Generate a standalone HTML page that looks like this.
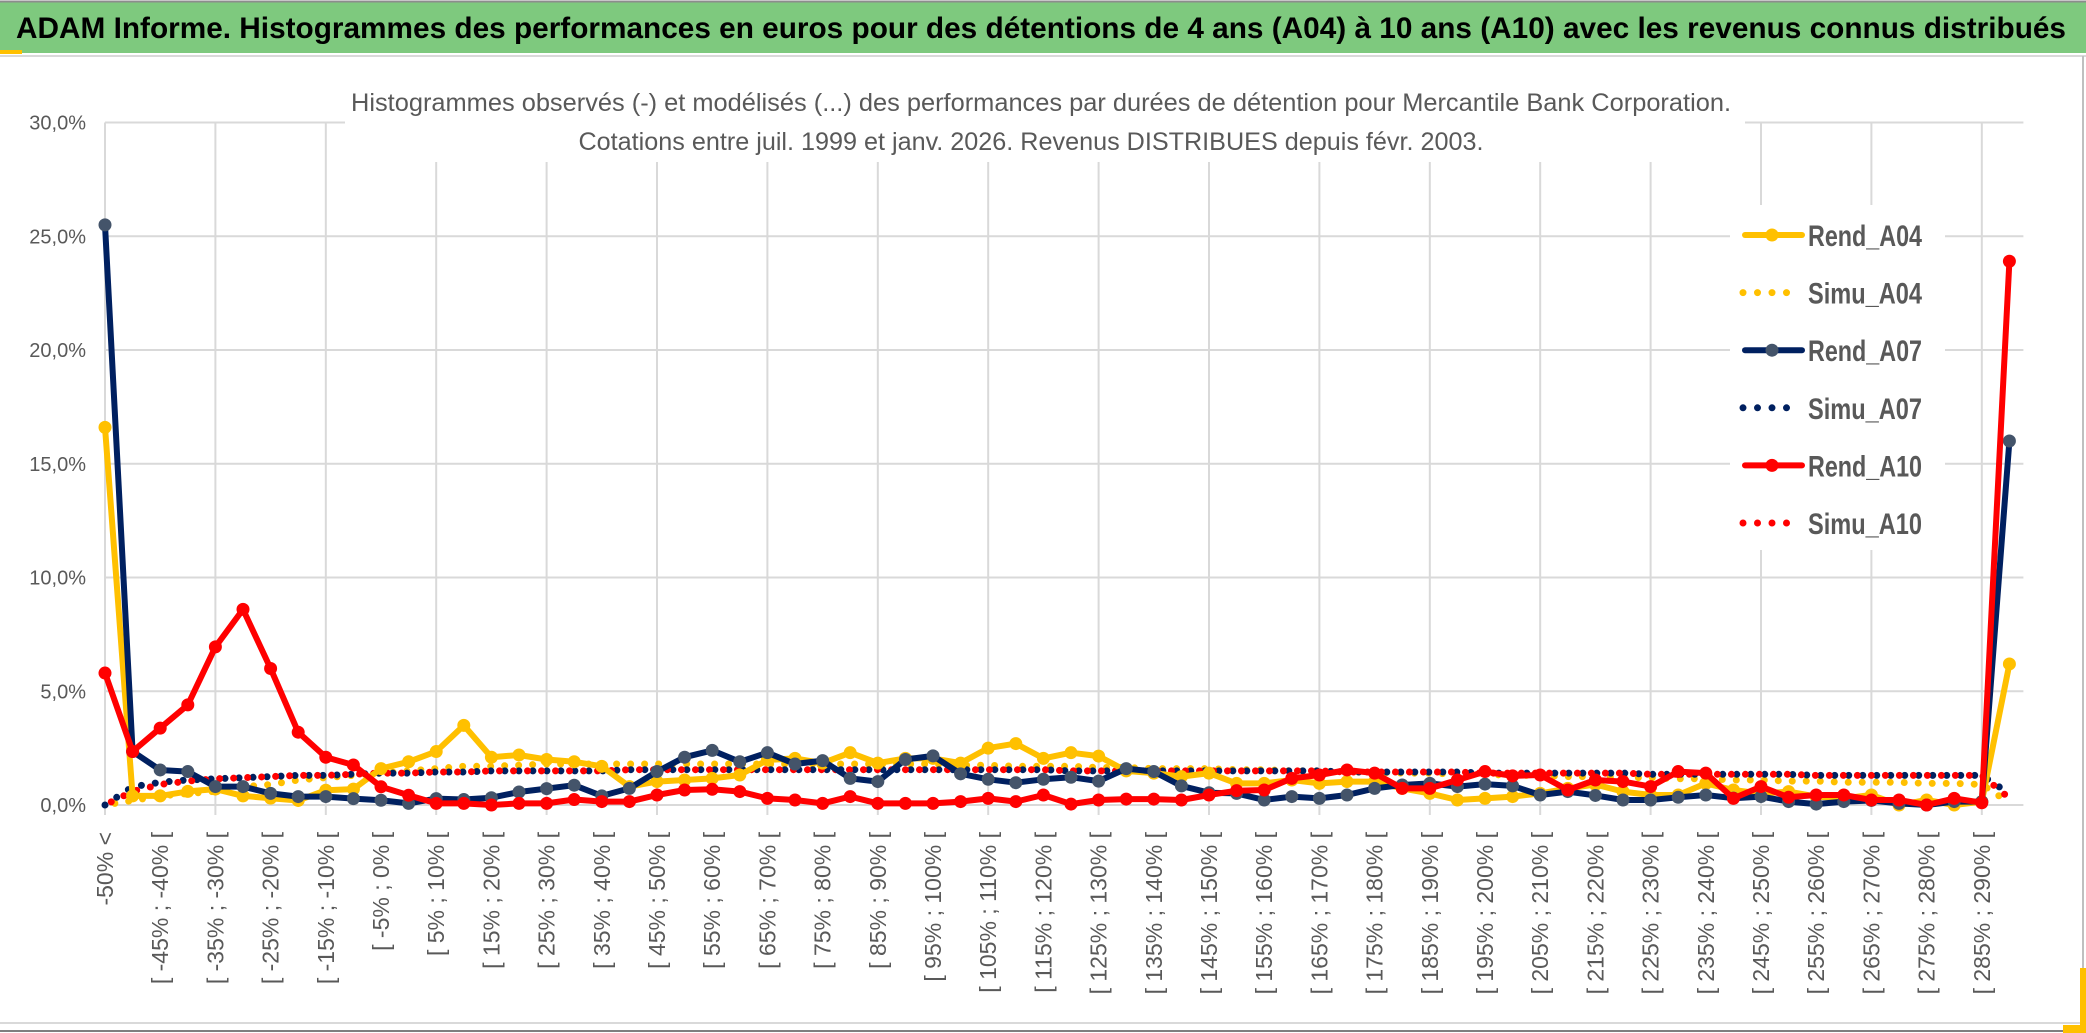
<!DOCTYPE html>
<html><head><meta charset="utf-8">
<style>
html,body{margin:0;padding:0;background:#fff;}
svg{display:block;}
text{font-family:"Liberation Sans Narrow","Liberation Sans",sans-serif;}
</style></head>
<body>
<svg id="chart" width="2086" height="1033" viewBox="0 0 2086 1033" xmlns="http://www.w3.org/2000/svg">
  <rect x="0" y="0" width="2086" height="1033" fill="#ffffff"/>
  <rect x="0" y="2" width="2086" height="51" fill="#7ec97e"/>
  <line x1="0" y1="1.5" x2="2086" y2="1.5" stroke="#8c8c8c" stroke-width="2"/>
  <rect x="0" y="50" width="22" height="4" fill="#ffc000"/>
  <line x1="0" y1="56" x2="2086" y2="56" stroke="#d9d9d9" stroke-width="2"/>
  <text x="16" y="38" font-size="30" font-weight="bold" fill="#000" textLength="2050" lengthAdjust="spacingAndGlyphs">ADAM Informe. Histogrammes des performances en euros pour des détentions de 4 ans (A04) à 10 ans (A10) avec les revenus connus distribués</text>
  <line x1="2083" y1="56" x2="2083" y2="1031" stroke="#bfbfbf" stroke-width="2"/>
  <line x1="0" y1="1023" x2="2083" y2="1023" stroke="#d9d9d9" stroke-width="2"/>
  <line x1="0" y1="1031" x2="2086" y2="1031" stroke="#7f7f7f" stroke-width="2"/>
  <rect x="2080" y="968" width="6" height="63" fill="#ffc000"/>
  <rect x="2063" y="1025" width="23" height="8" fill="#ffc000"/>
  <g id="grid"></g>
  <rect x="345" y="78" width="1400" height="84" fill="#fff"/>
  <text x="1041" y="111" font-size="25" fill="#595959" text-anchor="middle" textLength="1380" lengthAdjust="spacingAndGlyphs">Histogrammes observés (-) et modélisés (...) des performances par durées de détention pour Mercantile Bank Corporation.</text>
  <text x="1031" y="150" font-size="25" fill="#595959" text-anchor="middle" textLength="905" lengthAdjust="spacingAndGlyphs">Cotations entre juil. 1999 et janv. 2026. Revenus DISTRIBUES depuis févr. 2003.</text>
  <g id="yaxis"></g>
  <g id="xaxis"></g>
  <g id="series"></g>
  <g id="legend"></g>
</svg>
<script>
const categories = ["-50% <"];
const lowBounds = [-50,-45,-40,-35,-30,-25,-20,-15,-10,-5,0,5,10,15,20,25,30,35,40,45,50,55,60,65,70,75,80,85,90,95,100,105,110,115,120,125,130,135,140,145,150,155,160,165,170,175,180,185,190,195,200,205,210,215,220,225,230,235,240,245,250,255,260,265,270,275,280,285];
const yTicks = [0,5,10,15,20,25,30];
const yTickLabels = ["0,0%","5,0%","10,0%","15,0%","20,0%","25,0%","30,0%"];
const rendA04 = [16.6,.4,.4,.6,.7,.4,.3,.2,.65,.7,1.6,1.9,2.35,3.5,2.1,2.2,2.0,1.9,1.7,.81,1.03,1.1,1.17,1.32,1.98,2.05,1.84,2.3,1.84,2.05,2.05,1.84,2.5,2.7,2.05,2.3,2.15,1.5,1.4,1.25,1.4,.95,.95,1.1,.95,1.03,1.03,.73,.51,.22,.29,.37,.51,.73,.9,.59,.44,.44,.95,.66,.5,.59,.37,.29,.44,0,.22,0,.15,6.2];
const simuA04 = [0,.2,.4,.5,.6,.8,.9,1.1,1.2,1.3,1.4,1.5,1.6,1.7,1.7,1.75,1.8,1.8,1.8,1.8,1.8,1.8,1.8,1.8,1.8,1.8,1.8,1.8,1.8,1.8,1.8,1.75,1.75,1.7,1.7,1.7,1.65,1.65,1.6,1.6,1.6,1.55,1.55,1.5,1.5,1.45,1.45,1.4,1.4,1.35,1.35,1.3,1.3,1.25,1.25,1.2,1.2,1.15,1.15,1.1,1.1,1.05,1.05,1.0,1.0,1.0,.95,.95,.9,.1];
const rendA07 = [25.5,2.35,1.54,1.47,.81,.81,.51,.37,.37,.28,.21,.07,.28,.24,.32,.57,.72,.87,.4,.73,1.47,2.1,2.4,1.9,2.3,1.8,1.95,1.17,1.03,2.0,2.16,1.37,1.13,.98,1.13,1.22,1.05,1.6,1.47,.84,.54,.51,.22,.37,.29,.44,.73,.88,.95,.81,.92,.84,.44,.59,.42,.22,.22,.34,.44,.3,.37,.15,.04,.15,.2,.07,0,.15,.15,16.0];
const simuA07 = [0,.8,1.0,1.1,1.15,1.2,1.25,1.3,1.3,1.35,1.4,1.4,1.45,1.45,1.5,1.5,1.5,1.5,1.5,1.55,1.55,1.55,1.55,1.55,1.55,1.55,1.55,1.55,1.55,1.55,1.55,1.55,1.55,1.55,1.55,1.5,1.5,1.5,1.5,1.5,1.5,1.5,1.5,1.5,1.5,1.45,1.45,1.45,1.45,1.45,1.4,1.4,1.4,1.4,1.4,1.4,1.35,1.35,1.35,1.35,1.35,1.35,1.3,1.3,1.3,1.3,1.3,1.3,1.3,.5];
const rendA10 = [5.8,2.35,3.38,4.4,6.95,8.6,6.0,3.2,2.1,1.76,.8,.43,.07,.07,0,.07,.07,.24,.15,.15,.44,.66,.69,.59,.29,.22,.07,.37,.07,.07,.07,.15,.29,.15,.44,.04,.22,.26,.26,.22,.44,.63,.66,1.17,1.32,1.54,1.4,.73,.73,1.1,1.47,1.28,1.32,.66,1.1,1.03,.81,1.47,1.4,.29,.81,.34,.44,.44,.22,.22,0,.29,.1,23.9];
const simuA10 = [0,.6,.9,1.05,1.15,1.2,1.25,1.3,1.3,1.35,1.4,1.4,1.45,1.45,1.5,1.5,1.5,1.5,1.5,1.55,1.55,1.55,1.55,1.55,1.55,1.55,1.55,1.55,1.55,1.55,1.55,1.55,1.55,1.55,1.55,1.5,1.5,1.5,1.5,1.5,1.5,1.5,1.5,1.5,1.5,1.45,1.45,1.45,1.45,1.45,1.4,1.4,1.4,1.4,1.4,1.4,1.35,1.35,1.35,1.35,1.35,1.35,1.3,1.3,1.3,1.3,1.3,1.3,1.3,.3];

lowBounds.forEach(b => categories.push("[ " + b + "% ; " + (b + 5) + "% ["));
categories.push("> 290%");

const NS = "http://www.w3.org/2000/svg";
const X0 = 105, DX = 27.6, Y0 = 805, PY = 22.75;
function xs(i){ return X0 + i * DX; }
function ys(v){ return Y0 - v * PY; }
function mk(tag, attrs, parent){
  const e = document.createElementNS(NS, tag);
  for (const k in attrs) e.setAttribute(k, attrs[k]);
  parent.appendChild(e);
  return e;
}
const grid = document.getElementById('grid');
const yaxis = document.getElementById('yaxis');
const xaxis = document.getElementById('xaxis');
const series = document.getElementById('series');
const legend = document.getElementById('legend');
const nCat = categories.length;

yTicks.forEach((t, k) => {
  const l = mk('line', {x1: X0, x2: xs(nCat - 1) + 14, y1: ys(t), y2: ys(t), stroke: '#d9d9d9', 'stroke-width': 2}, grid);
  
  
  const tx = mk('text', {x: 86, y: ys(t) + 7, 'font-size': 20, fill: '#595959', 'text-anchor': 'end'}, yaxis);
  tx.textContent = yTickLabels[k];
  
  
});
for (let i = 0; i < nCat; i += 4) {
  const l = mk('line', {x1: xs(i), x2: xs(i), y1: ys(yTicks[yTicks.length - 1]), y2: Y0 + 10, stroke: '#d9d9d9', 'stroke-width': 2}, grid);
  
  
}
for (let i = 0; i < nCat; i += 2) {
  const x = xs(i) + 8, y = 832;
  const tx = mk('text', {x: x, y: y, 'font-size': 23, fill: '#595959', 'text-anchor': 'end', transform: 'rotate(-90 ' + x + ' ' + y + ')'}, xaxis);
  tx.textContent = categories[i];
  
  
}

function pts(arr){ return arr.map((v, i) => xs(i).toFixed(1) + ',' + ys(v).toFixed(1)).join(' '); }
function simu(arr, color, offset, name){
  const p = mk('polyline', {points: pts(arr), fill: 'none', stroke: color, 'stroke-width': 7, 'stroke-linecap': 'round', 'stroke-dasharray': '0 14', 'stroke-dashoffset': offset}, series);
  
  
}
function rend(arr, color, mcolor, name){
  const g = mk('g', {}, series);
  
  
  mk('polyline', {points: pts(arr), fill: 'none', stroke: color, 'stroke-width': 6, 'stroke-linejoin': 'round'}, g);
  arr.forEach((v, i) => {
    const c = mk('circle', {cx: xs(i), cy: ys(v), r: 6.5, fill: mcolor}, g);
    
    
  });
}
simu(simuA04, '#ffc000', 4, 'simu-a04-line');
simu(simuA07, '#002060', 0, 'simu-a07-line');
simu(simuA10, '#ff0000', 7, 'simu-a10-line');
rend(rendA04, '#ffc000', '#ffc000', 'rend-a04-line');
rend(rendA07, '#002060', '#44546a', 'rend-a07-line');
rend(rendA10, '#ff0000', '#ff0000', 'rend-a10-line');

const legItems = [
  ['Rend_A04', '#ffc000', '#ffc000', false],
  ['Simu_A04', '#ffc000', null, true],
  ['Rend_A07', '#002060', '#44546a', false],
  ['Simu_A07', '#002060', null, true],
  ['Rend_A10', '#ff0000', '#ff0000', false],
  ['Simu_A10', '#ff0000', null, true]
];
mk('rect', {x: 1730, y: 205, width: 215, height: 345, fill: '#fff'}, legend);
legItems.forEach((it, k) => {
  const cy = 235 + k * 57.6;
  const g = mk('g', {}, legend);
  
  
  if (it[3]) {
    mk('line', {x1: 1743, x2: 1800, y1: cy, y2: cy, stroke: it[1], 'stroke-width': 7, 'stroke-linecap': 'round', 'stroke-dasharray': '0 14.5'}, g);
  } else {
    mk('line', {x1: 1745, x2: 1802, y1: cy, y2: cy, stroke: it[1], 'stroke-width': 6, 'stroke-linecap': 'round'}, g);
    mk('circle', {cx: 1772, cy: cy, r: 6.5, fill: it[2]}, g);
  }
  const t = mk('text', {x: 1808, y: cy + 11, 'font-size': 30, 'font-weight': 'bold', fill: '#595959', textLength: 114, lengthAdjust: 'spacingAndGlyphs'}, g);
  t.textContent = it[0];
});
</script>
</body></html>
